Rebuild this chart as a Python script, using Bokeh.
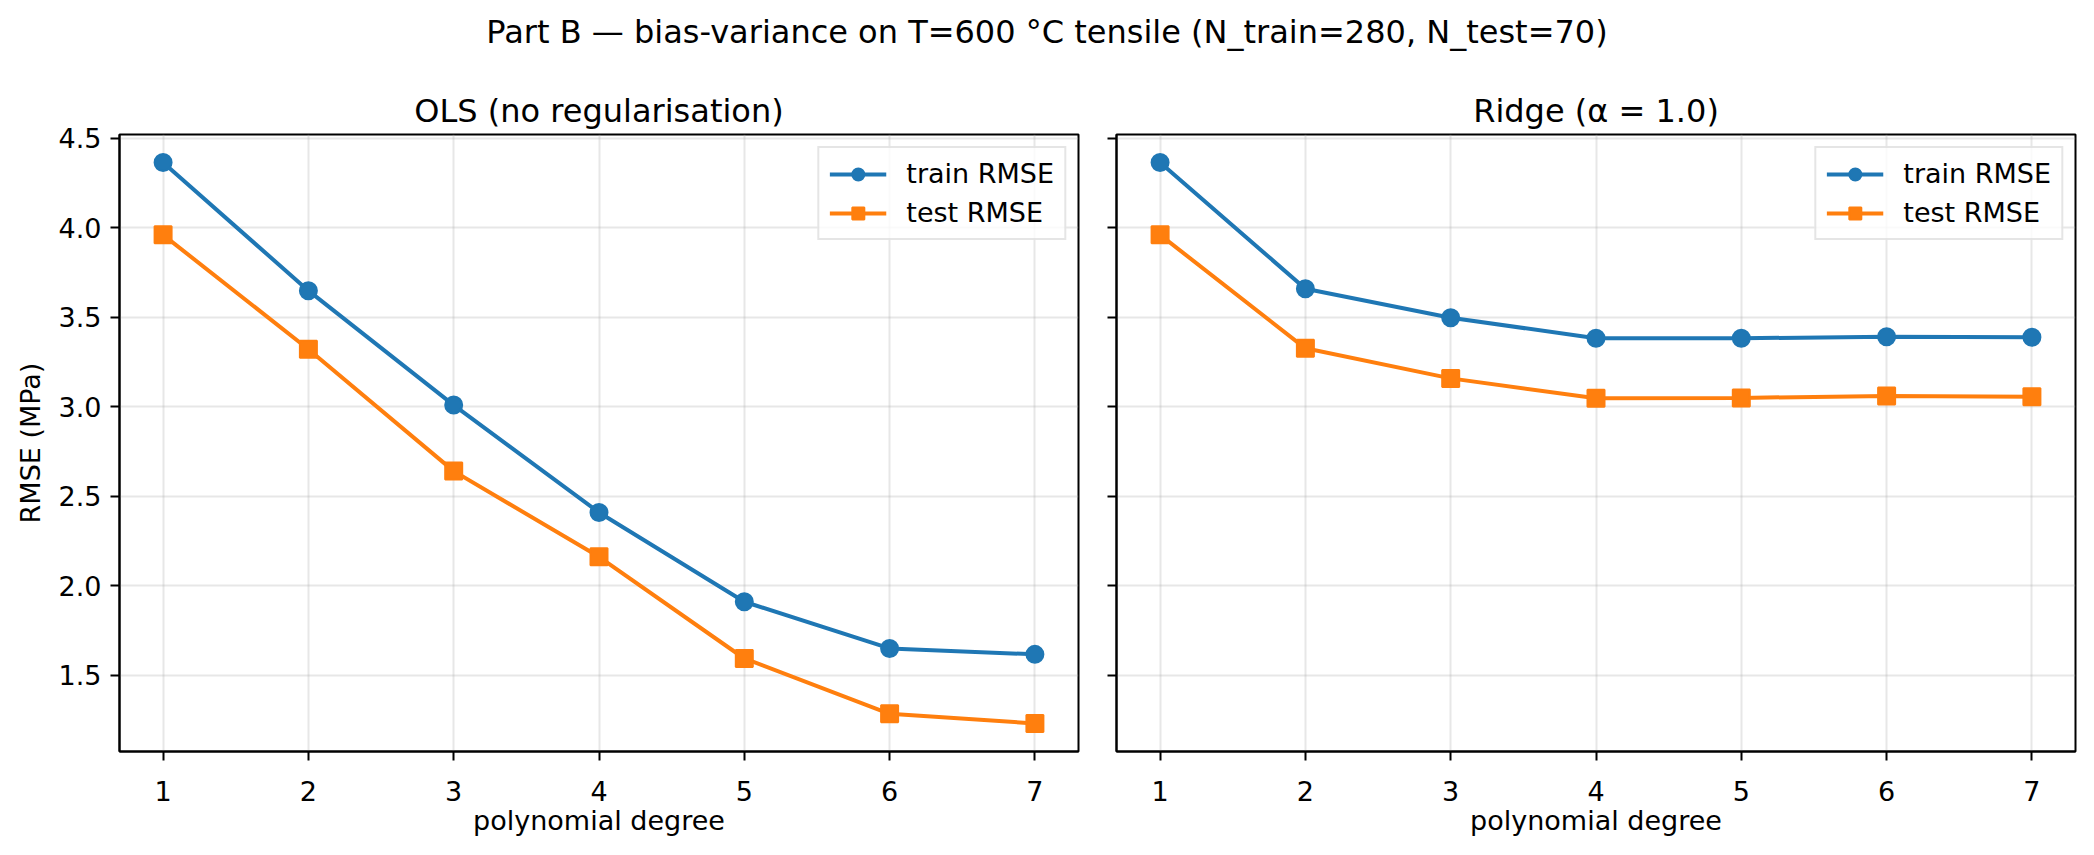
from bokeh.plotting import figure
from bokeh.models import FixedTicker, PrintfTickFormatter, Range1d, Div
from bokeh.layouts import row, column
from bokeh.embed import file_html
from bokeh.resources import INLINE

# ---- data ----
degrees = [1, 2, 3, 4, 5, 6, 7]
ols_train = [4.364, 3.648, 3.009, 2.409, 1.910, 1.649, 1.616]
ols_test = [3.960, 3.321, 2.640, 2.161, 1.593, 1.284, 1.230]
ridge_train = [4.364, 3.659, 3.497, 3.382, 3.382, 3.391, 3.388]
ridge_test = [3.960, 3.326, 3.158, 3.047, 3.049, 3.060, 3.056]
y_ticks = [1.5, 2.0, 2.5, 3.0, 3.5, 4.0, 4.5]
suptitle = "Part B \u2014 bias-variance on T=600 \u00b0C tensile (N_train=280, N_test=70)"
titles = ["OLS (no regularisation)", "Ridge (\u03b1 = 1.0)"]
series_names = ["train RMSE", "test RMSE"]

FONT = "DejaVu Sans"
C_TRAIN = "#1f77b4"
C_TEST = "#ff7f0e"

all_y = ols_train + ols_test + ridge_train + ridge_test
ylo, yhi = min(all_y), max(all_y)
ypad = 0.05 * (yhi - ylo)
y_range = Range1d(ylo - ypad, yhi + ypad)
xpad = 0.05 * (max(degrees) - min(degrees))


def make(title, train, test, bl, br, ylabels):
    p = figure(frame_width=959, frame_height=617,
               x_range=Range1d(min(degrees) - xpad, max(degrees) + xpad),
               y_range=y_range, output_backend="svg", toolbar_location=None,
               min_border_left=bl, min_border_right=br, min_border_top=66,
               min_border_bottom=100, title=title,
               background_fill_color="white", border_fill_color="white")
    p.title.text_font = FONT
    p.title.text_font_size = "32px"
    p.title.text_font_style = "normal"
    p.title.text_color = "black"
    p.title.align = "center"
    p.title.standoff = 10

    p.outline_line_color = "black"
    p.outline_line_width = 2
    p.outline_line_alpha = 1

    xt = FixedTicker(ticks=degrees)
    yt = FixedTicker(ticks=y_ticks)
    p.xaxis.ticker = xt
    p.yaxis.ticker = yt
    p.xgrid.ticker = xt
    p.ygrid.ticker = yt
    p.xaxis.formatter = PrintfTickFormatter(format="%d")
    p.yaxis.formatter = PrintfTickFormatter(format="%.1f")

    for ax in (p.xaxis[0], p.yaxis[0]):
        ax.axis_line_color = "black"
        ax.axis_line_width = 2
        ax.major_tick_line_color = "black"
        ax.major_tick_line_width = 2
        ax.major_tick_out = 9
        ax.major_tick_in = 0
        ax.minor_tick_line_color = None
        ax.major_label_text_font = FONT
        ax.major_label_text_font_size = "27px"
        ax.major_label_text_color = "black"
        ax.axis_label_text_font = FONT
        ax.axis_label_text_font_size = "27px"
        ax.axis_label_text_font_style = "normal"
        ax.axis_label_text_color = "black"

    p.xaxis.major_label_standoff = 20
    p.xaxis.axis_label = "polynomial degree"
    p.xaxis.axis_label_standoff = 1
    if ylabels:
        p.yaxis.major_label_standoff = 9
        p.yaxis.axis_label = "RMSE (MPa)"
        p.yaxis.axis_label_standoff = 10
    else:
        p.yaxis.major_label_overrides = {t: "" for t in y_ticks}
        p.yaxis.major_label_standoff = 0

    for g in (p.xgrid[0], p.ygrid[0]):
        g.grid_line_color = "#b0b0b0"
        g.grid_line_alpha = 0.3
        g.grid_line_width = 2

    p.line(degrees, train, line_color=C_TRAIN, line_width=4, legend_label=series_names[0])
    p.scatter(degrees, train, marker="circle", size=17, fill_color=C_TRAIN,
              line_color=C_TRAIN, line_width=2, legend_label=series_names[0])
    p.line(degrees, test, line_color=C_TEST, line_width=4, legend_label=series_names[1])
    p.scatter(degrees, test, marker="square", size=17, fill_color=C_TEST,
              line_color=C_TEST, line_width=2, legend_label=series_names[1])

    lg = p.legend[0]
    lg.location = "top_right"
    lg.margin = 12
    lg.padding = 10
    lg.spacing = 8
    lg.glyph_width = 57
    lg.glyph_height = 30
    lg.label_standoff = 20
    lg.label_text_font = FONT
    lg.label_text_font_size = "27px"
    lg.label_text_color = "black"
    lg.border_line_color = "#cccccc"
    lg.border_line_width = 2
    lg.background_fill_color = "white"
    lg.background_fill_alpha = 0.8
    return p


p1 = make(titles[0], ols_train, ols_test, 119, 19, True)
p2 = make(titles[1], ridge_train, ridge_test, 19, 10, False)

head = Div(text=('<div style="font-family: \'DejaVu Sans\'; font-size: 32px; color: black; '
                 'text-align: center; width: 2094px; padding-top: 14px; line-height: 1.164;">'
                 + suptitle + '</div>'),
           width=2094, height=68, margin=(0, 0, 0, 0))

layout = column(head, row(p1, p2, spacing=0), spacing=0)

open("out.html", "w").write(file_html(layout, INLINE))
